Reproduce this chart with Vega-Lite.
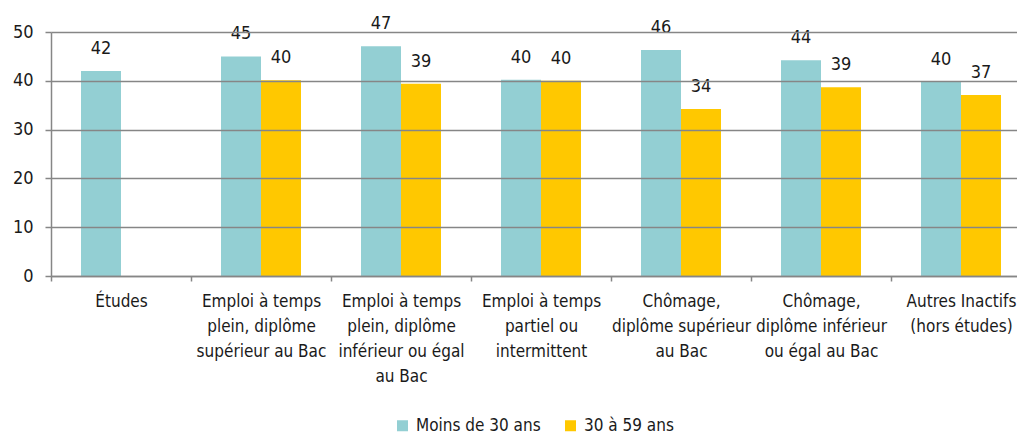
{
  "$schema": "https://vega.github.io/schema/vega-lite/v6.json",
  "width": 966,
  "height": 244,
  "autosize": {"type": "none"},
  "padding": {"left": 51, "top": 32, "right": 0, "bottom": 159},
  "background": "white",
  "config": {
    "view": {"stroke": null},
    "font": "Liberation Sans Narrow, DejaVu Sans Condensed, sans-serif",
    "axis": {"labelFont": "Liberation Sans Narrow, DejaVu Sans Condensed, sans-serif", "labelColor": "#1a1a1a"},
    "legend": {"labelFont": "Liberation Sans Narrow, DejaVu Sans Condensed, sans-serif", "labelColor": "#1a1a1a"}
  },
  "data": {
    "values": [
      {"categorie": "Études", "groupe": "Moins de 30 ans", "valeur": 42.0},
      {"categorie": "Emploi à temps\nplein, diplôme\nsupérieur au Bac", "groupe": "Moins de 30 ans", "valeur": 45.0},
      {"categorie": "Emploi à temps\nplein, diplôme\nsupérieur au Bac", "groupe": "30 à 59 ans", "valeur": 40.1},
      {"categorie": "Emploi à temps\nplein, diplôme\ninférieur ou égal\nau Bac", "groupe": "Moins de 30 ans", "valeur": 47.1},
      {"categorie": "Emploi à temps\nplein, diplôme\ninférieur ou égal\nau Bac", "groupe": "30 à 59 ans", "valeur": 39.4},
      {"categorie": "Emploi à temps\npartiel ou\nintermittent", "groupe": "Moins de 30 ans", "valeur": 40.2},
      {"categorie": "Emploi à temps\npartiel ou\nintermittent", "groupe": "30 à 59 ans", "valeur": 40.0},
      {"categorie": "Chômage,\ndiplôme supérieur\nau Bac", "groupe": "Moins de 30 ans", "valeur": 46.3},
      {"categorie": "Chômage,\ndiplôme supérieur\nau Bac", "groupe": "30 à 59 ans", "valeur": 34.2},
      {"categorie": "Chômage,\ndiplôme inférieur\nou égal au Bac", "groupe": "Moins de 30 ans", "valeur": 44.2},
      {"categorie": "Chômage,\ndiplôme inférieur\nou égal au Bac", "groupe": "30 à 59 ans", "valeur": 38.7},
      {"categorie": "Autres Inactifs\n(hors études)", "groupe": "Moins de 30 ans", "valeur": 39.8},
      {"categorie": "Autres Inactifs\n(hors études)", "groupe": "30 à 59 ans", "valeur": 37.1}
    ]
  },
  "encoding": {
    "x": {
      "field": "categorie",
      "type": "nominal",
      "sort": null,
      "scale": {"range": [0, 980], "paddingInner": 0, "paddingOuter": 0},
      "axis": {
        "title": null,
        "labelAngle": 0,
        "labelExpr": "split(datum.label, '\\n')",
        "labelFontSize": 17,
        "labelLineHeight": 25,
        "labelPadding": 12,
        "labelBaseline": "top",
        "tickBand": "extent",
        "ticks": true,
        "tickSize": 5,
        "tickWidth": 1.5,
        "tickColor": "#868686",
        "domainColor": "#868686",
        "domainWidth": 1.5,
        "grid": false,
        "zindex": 1
      }
    },
    "xOffset": {
      "field": "groupe",
      "type": "nominal",
      "sort": ["Moins de 30 ans", "30 à 59 ans"],
      "scale": {"domain": ["Moins de 30 ans", "30 à 59 ans"], "paddingInner": 0, "paddingOuter": 0.75}
    },
    "y": {
      "field": "valeur",
      "type": "quantitative",
      "scale": {"domain": [0, 50], "nice": false},
      "axis": {
        "title": null,
        "values": [0, 10, 20, 30, 40, 50],
        "labelFontSize": 18,
        "labelPadding": 12,
        "grid": true,
        "gridColor": "#868686",
        "gridWidth": 1.5,
        "tickSize": 6,
        "tickWidth": 1.5,
        "tickColor": "#868686",
        "domainColor": "#868686",
        "domainWidth": 1.5,
        "zindex": 1
      }
    }
  },
  "layer": [
    {
      "mark": {"type": "bar"},
      "encoding": {
        "color": {
          "field": "groupe",
          "type": "nominal",
          "scale": {"domain": ["Moins de 30 ans", "30 à 59 ans"], "range": ["#93CFD3", "#FFC800"]},
          "legend": {
            "title": null,
            "orient": "none",
            "direction": "horizontal",
            "legendX": 343,
            "legendY": 385,
            "symbolType": "square",
            "symbolSize": 121,
            "symbolStrokeWidth": 0,
            "labelFontSize": 17,
            "labelOffset": 5,
            "columnPadding": 21
          }
        }
      }
    },
    {
      "mark": {"type": "text", "baseline": "bottom", "dy": -13, "fontSize": 18, "color": "#1a1a1a"},
      "encoding": {
        "text": {"field": "valeur", "type": "quantitative", "format": ".0f"}
      }
    }
  ]
}
